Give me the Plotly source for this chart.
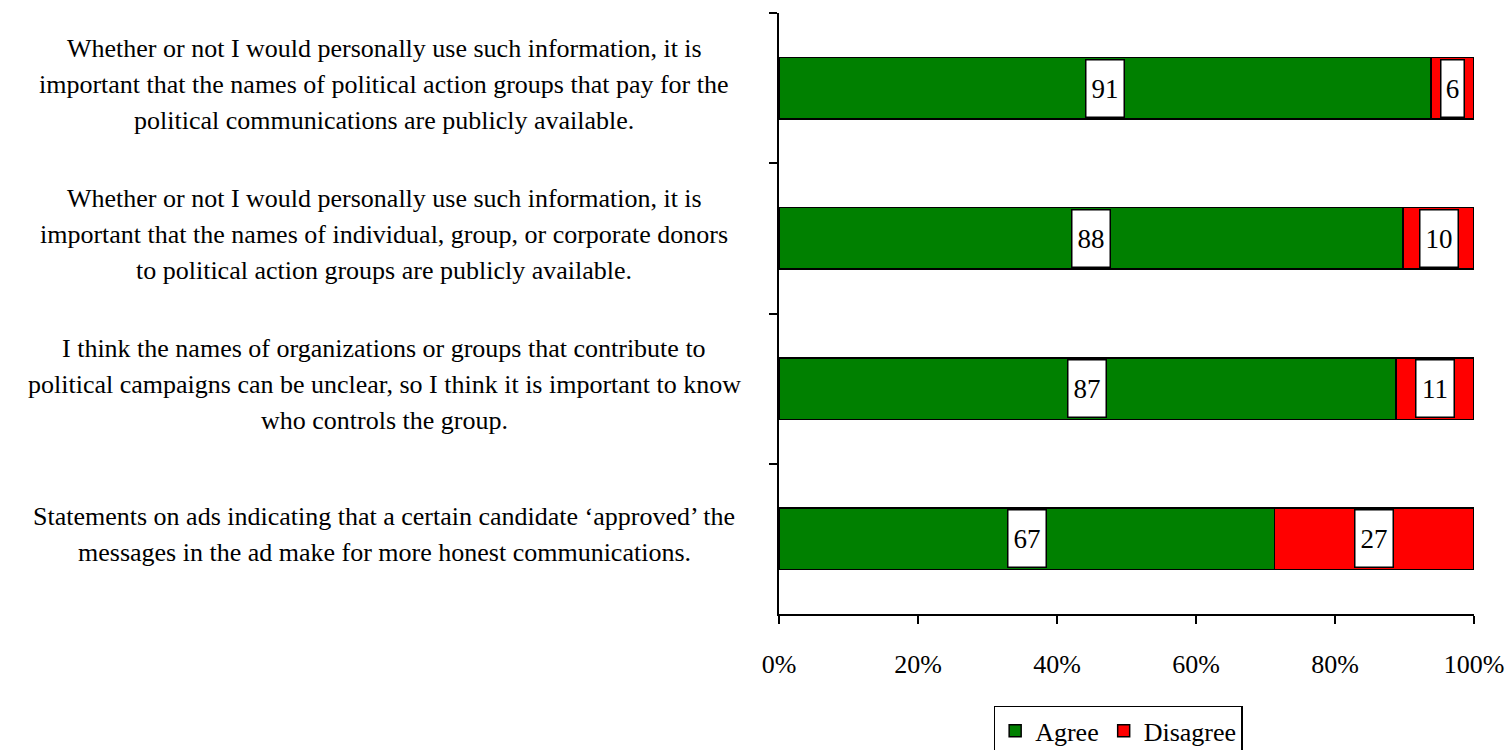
import plotly.graph_objects as go

# Survey statements (top to bottom), each split into display lines
statements = [
    ["Whether or not I would personally use such information, it is",
     "important that the names of political action groups that pay for the",
     "political communications are publicly available."],
    ["Whether or not I would personally use such information, it is",
     "important that the names of individual, group, or corporate donors",
     "to political action groups are publicly available."],
    ["I think the names of organizations or groups that contribute to",
     "political campaigns can be unclear, so I think it is important to know",
     "who controls the group."],
    ["Statements on ads indicating that a certain candidate \u2018approved\u2019 the",
     "messages in the ad make for more honest communications."],
]
categories = ["Q1", "Q2", "Q3", "Q4"]
agree = [91, 88, 87, 67]
disagree = [6, 10, 11, 27]
x_ticks = [0, 20, 40, 60, 80, 100]
x_tick_labels = ["0%", "20%", "40%", "60%", "80%", "100%"]

FONT = "Liberation Serif"
GREEN = "#008000"
RED = "#FF0000"

fig = go.Figure()
fig.add_trace(go.Bar(
    y=categories, x=agree, name="Agree", orientation="h",
    marker=dict(color=GREEN, line=dict(color="black", width=1.5)),
))
fig.add_trace(go.Bar(
    y=categories, x=disagree, name="Disagree", orientation="h",
    marker=dict(color=RED, line=dict(color="black", width=1.5)),
))

annotations = []
# Value labels in white boxes, centred on each stacked segment
for cat, a, d in zip(categories, agree, disagree):
    total = a + d
    a_pct = a / total * 100
    d_pct = d / total * 100
    for val, center in ((a, a_pct / 2), (d, a_pct + d_pct / 2)):
        w = 22 if val < 10 else 37
        annotations.append(dict(
            x=center, y=cat, xref="x", yref="y", text=str(val),
            showarrow=False, bgcolor="white", bordercolor="black",
            borderwidth=1.5, borderpad=0, width=w, height=56,
            font=dict(family=FONT, size=27, color="black"),
        ))

# Statement text to the left of the plot, one annotation per line
LINE_GAP = 36
for cat, lines in zip(categories, statements):
    n = len(lines)
    for i, line in enumerate(lines):
        offset = ((n - 1) / 2 - i) * LINE_GAP + 4
        annotations.append(dict(
            x=-0.568, y=cat, xref="paper", yref="y", yshift=offset,
            text=line, showarrow=False, xanchor="center", yanchor="middle",
            font=dict(family=FONT, size=26, color="black"),
        ))

fig.update_layout(
    barmode="stack",
    barnorm="percent",
    bargap=0.59,
    width=1510, height=750,
    margin=dict(l=779, r=36, t=13, b=136, autoexpand=False),
    paper_bgcolor="white", plot_bgcolor="white",
    font=dict(family=FONT, size=25, color="black"),
    annotations=annotations,
    showlegend=True,
    legend=dict(
        orientation="h", traceorder="normal",
        x=0.488, xanchor="center", y=-0.153, yanchor="top",
        bordercolor="black", borderwidth=1.5,
        font=dict(family=FONT, size=26, color="black"),
        itemwidth=30, tracegroupgap=0,
    ),
)
fig.update_xaxes(
    range=[0, 100], tickvals=x_ticks, ticktext=x_tick_labels,
    showgrid=False, zeroline=False,
    showline=True, linecolor="black", linewidth=1.5,
    ticks="outside", ticklen=8, tickcolor="black", tickwidth=1.5,
    tickfont=dict(family=FONT, size=26), ticklabelstandoff=18,
)
fig.update_yaxes(
    autorange="reversed", showticklabels=False, tickson="boundaries",
    showgrid=False, zeroline=False,
    showline=True, linecolor="black", linewidth=1.5,
    ticks="outside", ticklen=8, tickcolor="black", tickwidth=1.5,
)

fig.write_html("out.html")
